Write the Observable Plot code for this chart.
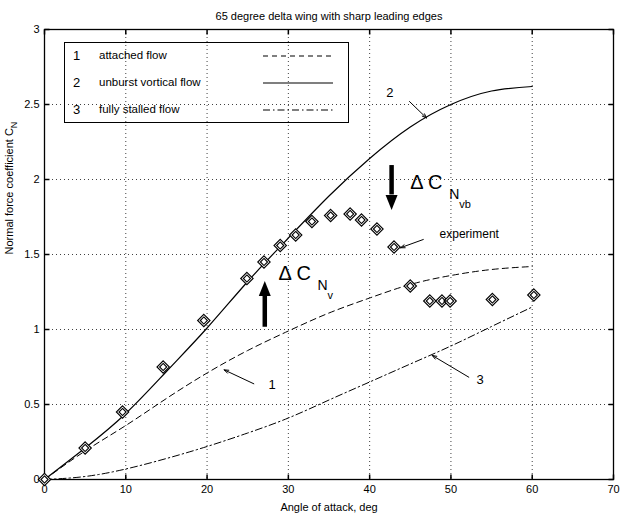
<!DOCTYPE html>
<html><head><meta charset="utf-8">
<script src="https://cdn.jsdelivr.net/npm/d3@7"></script>
<script src="https://cdn.jsdelivr.net/npm/@observablehq/plot@0.6"></script>
<style>
body{margin:0;background:#fff;}
#wrap{position:relative;width:621px;height:518px;font-family:"Liberation Sans",Arial,sans-serif;}
#legend{position:absolute;left:64px;top:42px;width:285px;height:81px;border:1px solid #000;box-sizing:border-box;font-size:11.5px;color:#000;}
#legend .row{position:absolute;left:0;width:100%;height:16px;}
#legend .num{position:absolute;left:8px;top:-1px;font-size:13px;}
#legend .lab{position:absolute;left:34px;top:0;}
#legend svg{position:absolute;left:198px;top:0;}
</style>
</head><body><div id="wrap"><div id="legend"></div></div>
<script>
// ---- data ----
const alpha = [0, 5, 10, 15, 20, 25, 30, 35, 40, 45, 50, 55, 60];
const cnAttached = [0, 0.19, 0.36, 0.54, 0.71, 0.86, 0.99, 1.11, 1.21, 1.30, 1.36, 1.40, 1.42];
const cnUnburst  = [0, 0.21, 0.44, 0.72, 1.01, 1.32, 1.61, 1.89, 2.14, 2.35, 2.50, 2.59, 2.62];
const cnStalled  = [0, 0.02, 0.07, 0.14, 0.22, 0.31, 0.41, 0.53, 0.65, 0.77, 0.89, 1.02, 1.15];
const expAlpha = [0, 5.0, 9.6, 14.6, 19.6, 24.9, 27.0, 29.0, 30.9, 32.9, 35.2, 37.6, 39.0, 40.9, 43.0, 45.0, 47.4, 48.9, 49.9, 55.1, 60.2];
const expCN    = [0, 0.21, 0.45, 0.75, 1.06, 1.34, 1.45, 1.56, 1.63, 1.72, 1.76, 1.77, 1.73, 1.67, 1.55, 1.29, 1.19, 1.19, 1.19, 1.20, 1.23];
const xTicks = [0, 10, 20, 30, 40, 50, 60, 70];
const yTicks = [0, 0.5, 1, 1.5, 2, 2.5, 3];
const legendNums = ["1", "2", "3"];
const legendLabels = ["attached flow", "unburst vortical flow", "fully stalled flow"];
const titleText = "65 degree delta wing with sharp leading edges";
const xLabel = "Angle of attack, deg";
const yLabel = "Normal force coefficient C";
// annotation anchors (data units)
const curveLabels = [{t: "2", x: 42.5, y: 2.58}, {t: "1", x: 28.0, y: 0.63}, {t: "3", x: 53.6, y: 0.665}];
const pointers = [
  {x1: 44.9, y1: 2.52, x2: 47.0, y2: 2.41},
  {x1: 25.75, y1: 0.638, x2: 22.1, y2: 0.731},
  {x1: 52.2, y1: 0.682, x2: 47.7, y2: 0.827},
  {x1: 46.6, y1: 1.60, x2: 43.8, y2: 1.545}
];
const expLabel = {t: "experiment", x: 48.6, y: 1.633};
const bigArrows = [{x: 42.7, y1: 2.093, y2: 1.827}, {x: 27.1, y1: 1.015, y2: 1.293}];
const deltaLabels = [{x: 45.0, y: 1.94, sub: "vb"}, {x: 28.8, y: 1.331, sub: "v"}];

const W = 621, H = 518;
const tick = (dx, dy) => ({draw(ctx) { ctx.moveTo(0, 0); ctx.lineTo(dx, dy); }});
const head = (up) => ({draw(ctx) { const s = up ? -1 : 1; ctx.moveTo(-6, 0); ctx.lineTo(6, 0); ctx.lineTo(0, s * 15); ctx.closePath(); }});

const shaftEnd = d => d.y2 + (d.y1 > d.y2 ? 0.07 : -0.07);

const chart = Plot.plot({
  width: W, height: H,
  marginLeft: 44, marginRight: 8, marginTop: 29, marginBottom: 39,
  style: {fontFamily: "Liberation Sans, Arial, sans-serif", fontSize: "11px", background: "#fff", color: "#000"},
  x: {domain: [0, 70]},
  y: {domain: [0, 3]},
  marks: [
    Plot.gridX(xTicks, {stroke: "#000", strokeOpacity: 0.75, strokeDasharray: "1,3"}),
    Plot.gridY(yTicks, {stroke: "#000", strokeOpacity: 0.75, strokeDasharray: "1,3"}),
    Plot.axisX(xTicks, {tickSize: 0, tickPadding: 6, label: null, fontSize: 11}),
    Plot.axisY(yTicks, {tickSize: 0, tickPadding: 5, label: null, fontSize: 11, tickFormat: d => String(d)}),
    Plot.dot(xTicks, {x: d => d, frameAnchor: "bottom", symbol: tick(0, -5), fill: "none", stroke: "#000"}),
    Plot.dot(xTicks, {x: d => d, frameAnchor: "top", symbol: tick(0, 5), fill: "none", stroke: "#000"}),
    Plot.dot(yTicks, {y: d => d, frameAnchor: "left", symbol: tick(5, 0), fill: "none", stroke: "#000"}),
    Plot.dot(yTicks, {y: d => d, frameAnchor: "right", symbol: tick(-5, 0), fill: "none", stroke: "#000"}),
    Plot.frame({stroke: "#000", strokeWidth: 1.3}),
    Plot.line(alpha, {x: d => d, y: (d, i) => cnAttached[i], curve: "natural", stroke: "#000", strokeWidth: 1, strokeDasharray: "6,4"}),
    Plot.line(alpha, {x: d => d, y: (d, i) => cnUnburst[i], curve: "natural", stroke: "#000", strokeWidth: 1.2}),
    Plot.line(alpha, {x: d => d, y: (d, i) => cnStalled[i], curve: "natural", stroke: "#000", strokeWidth: 1, strokeDasharray: "7,3,1.5,3"}),
    Plot.dot(expAlpha, {x: d => d, y: (d, i) => expCN[i], symbol: "diamond2", r: 5.6, fill: "#fff", stroke: "#000", strokeWidth: 1.1}),
    Plot.dot(expAlpha, {x: d => d, y: (d, i) => expCN[i], symbol: "diamond2", r: 3.2, fill: "none", stroke: "#000", strokeWidth: 1.1}),
    Plot.arrow(pointers, {x1: "x1", y1: "y1", x2: "x2", y2: "y2", stroke: "#000", strokeWidth: 1, headLength: 7, headAngle: 40}),
    Plot.text(curveLabels, {x: "x", y: "y", text: "t", fontSize: 13, fill: "#000"}),
    Plot.text([expLabel], {x: "x", y: "y", text: "t", textAnchor: "start", fontSize: 12, fill: "#000"}),
    Plot.ruleX(bigArrows, {x: "x", y1: "y1", y2: shaftEnd, stroke: "#000", strokeWidth: 4.5}),
    Plot.dot(bigArrows, {x: "x", y: shaftEnd, symbol: d => d.y1 > d.y2 ? "down" : "up", fill: "#000", stroke: "none"}),
    Plot.text(deltaLabels, {x: "x", y: "y", text: () => "\u0394 C", textAnchor: "start", lineAnchor: "bottom", fontSize: 20, fill: "#000"}),
    Plot.text(deltaLabels, {x: "x", y: "y", text: () => "N", textAnchor: "start", lineAnchor: "bottom", dx: 39, dy: 10, fontSize: 14, fill: "#000"}),
    Plot.text(deltaLabels, {x: "x", y: "y", text: "sub", textAnchor: "start", lineAnchor: "bottom", dx: 49, dy: 19, fontSize: 11, fill: "#000"}),
    Plot.text([titleText], {frameAnchor: "top", dy: -17, fontSize: 11, fill: "#000"}),
    Plot.text([xLabel], {frameAnchor: "bottom", dy: 31, fontSize: 11, fill: "#000"}),
    Plot.text([yLabel], {frameAnchor: "left", rotate: -90, dx: -35, fontSize: 11, fill: "#000"})
  ],
  symbol: {domain: ["down", "up"], range: [head(false), head(true)]}
});

// subscript N for the y label
d3.select(chart).selectAll("text").filter(function() { return this.textContent === yLabel; })
  .append("tspan").attr("dy", "4").attr("font-size", "9").text("N");

document.getElementById("wrap").prepend(chart);

// legend
const legend = d3.select("#legend");
const dashes = ["5,4", null, "7,3,1.5,3"];
const rowTops = [6, 33, 60];
legendNums.forEach((n, i) => {
  const row = legend.append("div").attr("class", "row").style("top", rowTops[i] + "px");
  row.append("span").attr("class", "num").text(n);
  row.append("span").attr("class", "lab").text(legendLabels[i]);
  const s = row.append("svg").attr("width", 72).attr("height", 14);
  s.append("line").attr("x1", 0).attr("x2", 70).attr("y1", 7).attr("y2", 7)
    .attr("stroke", "#000").attr("stroke-width", 1.2).attr("stroke-dasharray", dashes[i]);
});
</script>
</body></html>
